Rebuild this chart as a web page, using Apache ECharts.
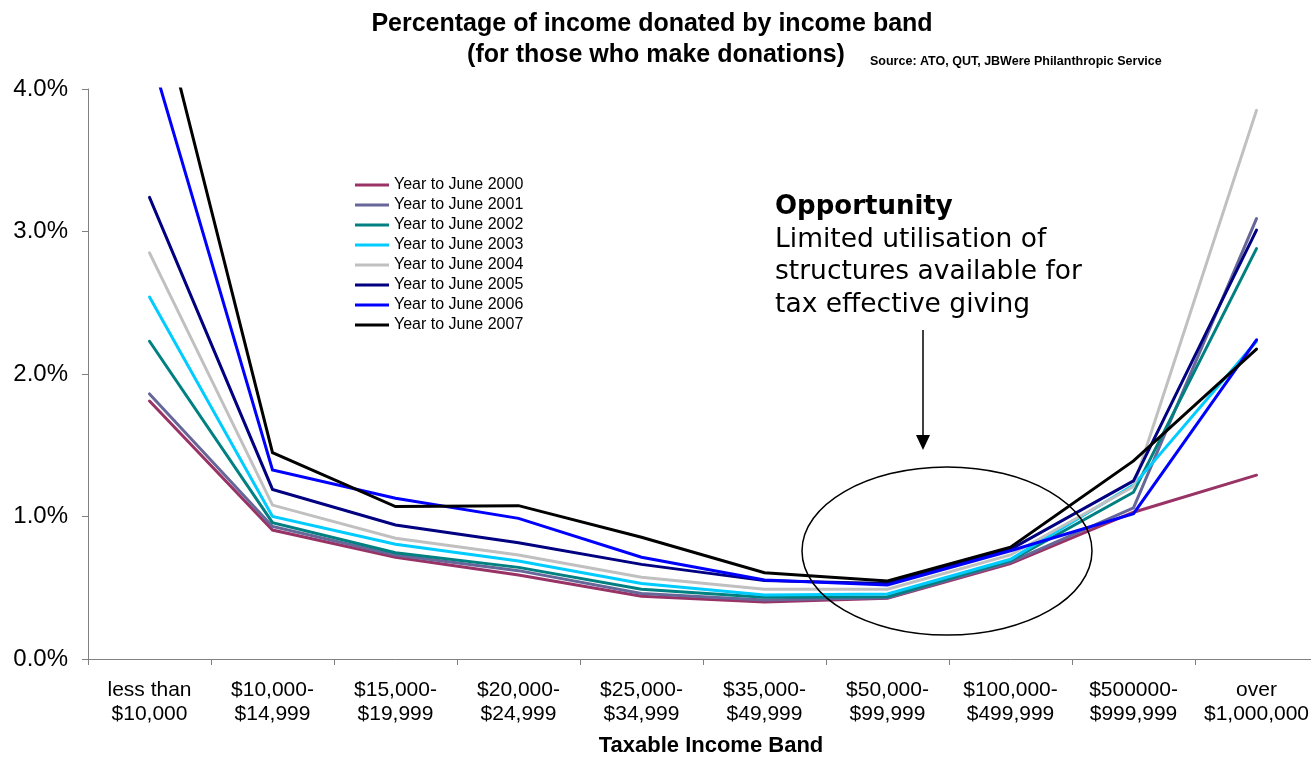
<!DOCTYPE html>
<html>
<head>
<meta charset="utf-8">
<script src="https://cdn.jsdelivr.net/npm/echarts@6/dist/echarts.min.js"></script>
<style>html,body{margin:0;padding:0;background:#fff;overflow:hidden;}#c{width:1320px;height:758px;}</style>
</head>
<body>
<div id="c"></div>
<script>
const categories = ['less than\n$10,000','$10,000-\n$14,999','$15,000-\n$19,999','$20,000-\n$24,999','$25,000-\n$34,999','$35,000-\n$49,999','$50,000-\n$99,999','$100,000-\n$499,999','$500000-\n$999,999','over\n$1,000,000'];
const seriesNames = ['Year to June 2000','Year to June 2001','Year to June 2002','Year to June 2003','Year to June 2004','Year to June 2005','Year to June 2006','Year to June 2007'];
const y2000 = [1.81, 0.905, 0.714, 0.59, 0.44, 0.40, 0.426, 0.67, 1.03, 1.29];
const y2001 = [1.86, 0.93, 0.73, 0.62, 0.46, 0.414, 0.43, 0.68, 1.06, 3.09];
const y2002 = [2.23, 0.957, 0.746, 0.643, 0.489, 0.433, 0.437, 0.69, 1.17, 2.88];
const y2003 = [2.54, 1.00, 0.805, 0.688, 0.53, 0.449, 0.456, 0.70, 1.22, 2.23];
const y2004 = [2.85, 1.08, 0.847, 0.73, 0.573, 0.489, 0.489, 0.73, 1.21, 3.85];
const y2005 = [3.24, 1.19, 0.94, 0.816, 0.664, 0.55, 0.53, 0.77, 1.25, 3.01];
const y2006 = [4.27, 1.326, 1.128, 0.987, 0.714, 0.554, 0.52, 0.76, 1.02, 2.24];
const y2007 = [4.87, 1.448, 1.07, 1.076, 0.854, 0.606, 0.547, 0.785, 1.39, 2.175];
const yTicks = { min: 0, max: 4, interval: 1 };
const colors = ['#993366','#666699','#008080','#00CCFF','#C0C0C0','#000080','#0000FF','#000000'];
const allData = [y2000, y2001, y2002, y2003, y2004, y2005, y2006, y2007];

const chart = echarts.init(document.getElementById('c'), null, {renderer: 'canvas'});
const font = 'Arial, "Liberation Sans", sans-serif';
const vfont = '"DejaVu Sans", Verdana, sans-serif';
const option = {
  animation: false,
  backgroundColor: '#fff',
  color: colors,
  grid: { left: 88, top: 89, width: 1230, height: 570, containLabel: false },
  legend: {
    orient: 'vertical', left: 355, top: 177, padding: 0,
    icon: 'rect', itemWidth: 34, itemHeight: 3, itemGap: 4,
    textStyle: { fontFamily: font, fontSize: 16, lineHeight: 16, color: '#000' },
    data: seriesNames
  },
  xAxis: {
    type: 'category', data: categories, boundaryGap: true,
    axisLine: { lineStyle: { color: '#808080', width: 1 } },
    axisTick: { show: true, length: 6, lineStyle: { color: '#808080' } },
    axisLabel: { fontFamily: font, fontSize: 21, lineHeight: 24, color: '#000', margin: 19, interval: 0 }
  },
  yAxis: {
    type: 'value', min: yTicks.min, max: yTicks.max, interval: yTicks.interval,
    axisLine: { show: true, lineStyle: { color: '#808080', width: 1 } },
    axisTick: { show: true, length: 6, lineStyle: { color: '#808080' } },
    splitLine: { show: false },
    axisLabel: { fontFamily: font, fontSize: 24, color: '#000', margin: 20, formatter: v => v.toFixed(1) + '%' }
  },
  series: seriesNames.map((n, i) => ({
    name: n, type: 'line', data: allData[i], symbol: 'none', clip: true,
    lineStyle: { width: 3, color: colors[i], cap: 'round', join: 'miter' },
    itemStyle: { color: colors[i] }
  })),
  graphic: [
    { type: 'text', x: 652, y: 24, style: { text: 'Percentage of income donated by income band', font: 'bold 25px ' + font, fill: '#000', textAlign: 'center', textVerticalAlign: 'middle' } },
    { type: 'text', x: 656, y: 55, style: { text: '(for those who make donations)', font: 'bold 25px ' + font, fill: '#000', textAlign: 'center', textVerticalAlign: 'middle' } },
    { type: 'text', x: 870, y: 62, style: { text: 'Source: ATO, QUT, JBWere Philanthropic Service', font: 'bold 12.5px ' + font, fill: '#000', textAlign: 'left', textVerticalAlign: 'middle' } },
    { type: 'text', x: 711, y: 746, style: { text: 'Taxable Income Band', font: 'bold 22px ' + font, fill: '#000', textAlign: 'center', textVerticalAlign: 'middle' } },
    { type: 'text', x: 775, y: 207, style: { text: 'Opportunity', font: 'bold 26px ' + vfont, fill: '#000', textVerticalAlign: 'middle' } },
    { type: 'text', x: 775, y: 240, style: { text: 'Limited utilisation of', font: '26.5px ' + vfont, fill: '#000', textVerticalAlign: 'middle' } },
    { type: 'text', x: 775, y: 272, style: { text: 'structures available for', font: '26.5px ' + vfont, fill: '#000', textVerticalAlign: 'middle' } },
    { type: 'text', x: 775, y: 305, style: { text: 'tax effective giving', font: '26.5px ' + vfont, fill: '#000', textVerticalAlign: 'middle' } },
    { type: 'line', shape: { x1: 923, y1: 330, x2: 923, y2: 440 }, style: { stroke: '#000', lineWidth: 1.5 } },
    { type: 'polygon', shape: { points: [[916, 435], [930, 435], [923, 450]] }, style: { fill: '#000' } },
    { type: 'ellipse', shape: { cx: 947, cy: 551, rx: 145, ry: 84 }, style: { fill: 'none', stroke: '#000', lineWidth: 1.5 }, z: 100 }
  ]
};
chart.setOption(option);
</script>
</body>
</html>
